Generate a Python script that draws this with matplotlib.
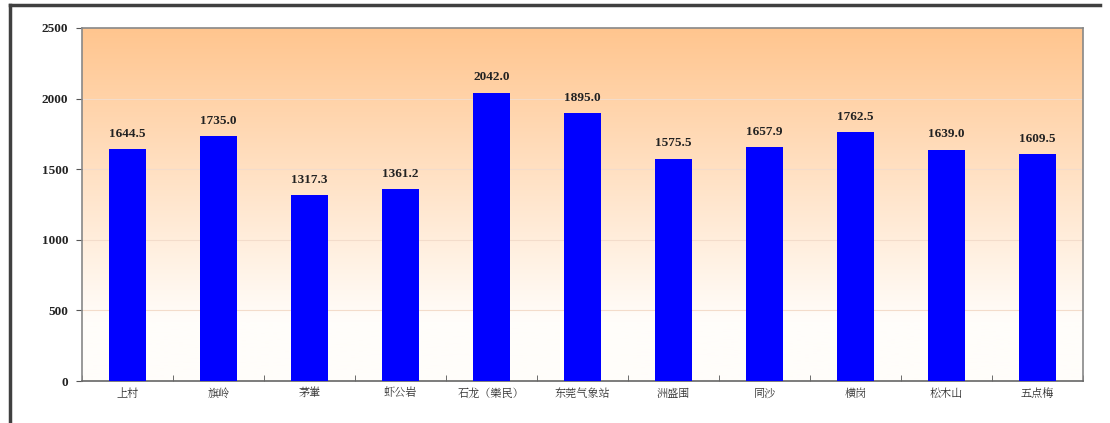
import numpy as np
import matplotlib.pyplot as plt
from matplotlib.lines import Line2D

stations = ['上村', '旗岭', '茅輋', '虾公岩', '石龙（樂民）', '东莞气象站',
            '洲盛围', '同沙', '横岗', '松木山', '五点梅']
rainfall = [1644.5, 1735.0, 1317.3, 1361.2, 2042.0, 1895.0,
            1575.5, 1657.9, 1762.5, 1639.0, 1609.5]
yticks = [0, 500, 1000, 1500, 2000, 2500]

num_font = ['Liberation Serif', 'Noto Sans CJK SC']
cjk_font = ['Noto Serif CJK SC', 'Noto Sans CJK SC', 'DejaVu Sans']

fig = plt.figure(figsize=(11.1, 4.23), dpi=100)
ax = fig.add_axes([82 / 1110, 1 - 381 / 423, 1001 / 1110, 353 / 423])

x = np.arange(len(stations))
ax.set_xlim(-0.5, len(stations) - 0.5)
ax.set_ylim(0, 2500)

# gradient background, orange at top fading to white
top = np.array([255, 197, 142]) / 255
bot = np.array([255, 253, 250]) / 255
t = np.linspace(0, 1, 256)[:, None]
t = np.clip(t * 1.2, 0, 1)
grad = (top * (1 - t) + bot * t)[:, None, :]
ax.imshow(grad, extent=[-0.5, len(stations) - 0.5, 0, 2500],
          aspect='auto', origin='upper', zorder=0)

for yv in yticks[1:-1]:
    ax.axhline(yv, color='#f3dccb', lw=0.8, zorder=1)

ax.bar(x, rainfall, width=0.4, color='#0000ff', zorder=3)
for xi, v in zip(x, rainfall):
    ax.text(xi, v + 65, f'{v:.1f}', ha='center', va='bottom',
            fontsize=9.5, fontweight='bold', family=num_font, color='#222222')

ax.set_yticks(yticks)
ax.set_yticklabels([str(v) for v in yticks], fontsize=9.5, fontweight='bold',
                   family=num_font, color='#222222')
ax.set_xticks(x)
ax.set_xticklabels(stations, fontsize=8, family=cjk_font, color='#333333')
ax.tick_params(axis='x', length=0, pad=5)
ax.set_xticks(np.arange(len(stations) + 1) - 0.5, minor=True)
ax.tick_params(axis='x', which='minor', direction='in', length=4, color='#555555')
ax.tick_params(axis='y', length=4, color='#555555', pad=6)

for s in ax.spines.values():
    s.set_color('#888888')
    s.set_linewidth(1.2)
ax.spines['bottom'].set_color('#666666')

# outer frame of the picture
fig.add_artist(Line2D([10 / 1110, 10 / 1110], [0, 1 - 5 / 423],
                      transform=fig.transFigure, color='#404040', lw=2.5))
fig.add_artist(Line2D([10 / 1110, 1100 / 1110], [1 - 5 / 423, 1 - 5 / 423],
                      transform=fig.transFigure, color='#404040', lw=2.5))

fig.savefig('out.png', dpi=100)
